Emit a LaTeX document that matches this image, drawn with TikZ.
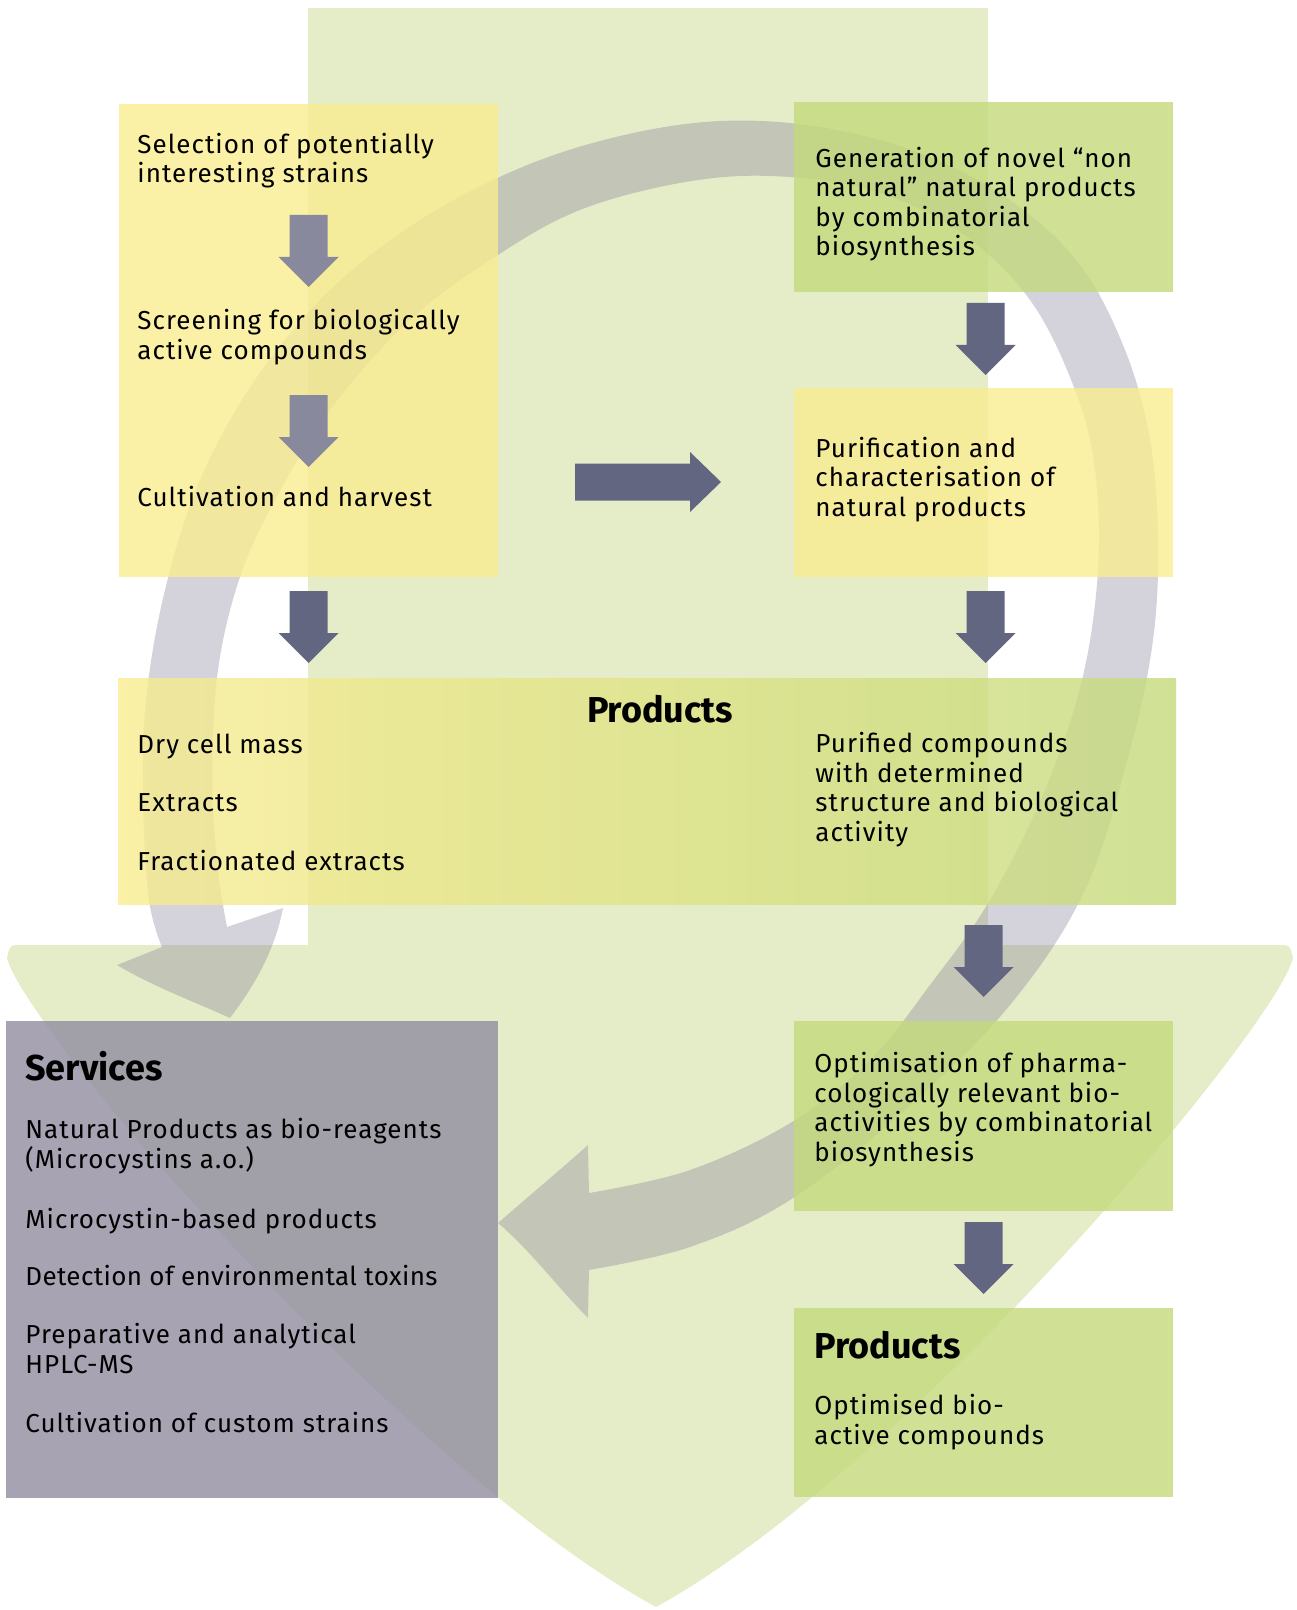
\documentclass[tikz,border=0pt]{standalone}
\usepackage{fontspec}
\setmainfont{Fira Sans}[LetterSpace=4]
\newfontfamily\headfont{Fira Sans}
\usetikzlibrary{calc}
\definecolor{bandc}{RGB}{229,237,200}
\definecolor{ringc}{RGB}{133,128,154}
\definecolor{yelc}{RGB}{249,236,144}
\definecolor{grnc}{RGB}{196,218,124}
\definecolor{servc}{RGB}{145,140,160}
\definecolor{arrc}{RGB}{98,102,128}
\definecolor{arrlc}{RGB}{136,137,156}
\newcommand{\blockdown}[2]{\fill[#2] (#1) +(-19,0) -- +(19,0) -- +(19,42) -- +(30,42) -- +(0,72) -- +(-30,42) -- +(-19,42) -- cycle;}
\begin{document}
\begin{tikzpicture}[x=0.5pt,y=-0.5pt,
  font=\fontsize{13pt}{14.75pt}\selectfont,
  boxn/.style={inner sep=0pt, outer sep=0pt, anchor=north west, fill opacity=0.8, minimum width=#1},
  txt/.style={anchor=base west, align=left, inner sep=0pt},
  head/.style={inner sep=0pt, font=\fontsize{18pt}{20pt}\selectfont\headfont\bfseries}]
\useasboundingbox (0,0) rectangle (1296,1610);
% big green arrow
\fill[bandc] (308,8) rectangle (988,946);
\fill[bandc] (22,945) -- (1278,945) .. controls (1290,945) .. (1293,958)
  .. controls (1275,1030) and (905,1470) .. (656,1607)
  .. controls (405,1470) and (25,1030) .. (7,958)
  .. controls (10,945) .. (22,945) -- cycle;
% circular arrow
\fill[ringc, fill opacity=0.35] (227,927) -- (283,908)
  .. controls (275,950) and (255,985) .. (230,1018)
  .. controls (190,1000) and (150,985) .. (117,965) -- (162,947)
  -- plot[smooth, tension=0.6] coordinates {(162,947) (149,900) (143,800) (146,700) (165,590) (200,480) (255,380) (330,290) (420,220) (520,168) (620,136) (720,121) (820,127) (920,153) (1010,200) (1080,265) (1125,350) (1150,440) (1158,540) (1153,640) (1130,750) (1085,890) (1010,1005) (905,1110) (790,1200) (690,1247) (589,1270)}
  -- (588,1318) .. controls (560,1290) and (530,1250) .. (498,1223)
  .. controls (530,1195) and (560,1170) .. (588,1145)
  -- plot[smooth, tension=0.6] coordinates {(589,1193) (690,1170) (792,1122) (870,1060) (930,985) (990,900) (1045,790) (1082,680) (1098,570) (1095,470) (1075,390) (1030,300) (960,232) (870,190) (770,176) (680,183) (580,210) (498,255) (410,320) (330,410) (275,500) (240,577) (218,670) (212,780) (218,870) (227,927)}
  -- cycle;
% boxes
\node[boxn=189.5pt, minimum height=236.5pt, fill=yelc] (b1) at (119,104) {};
\node[boxn=189.5pt, minimum height=95pt, fill=grnc] (gen) at (794,102) {};
\node[boxn=189.5pt, minimum height=94.5pt, fill=yelc] (pur) at (794,388) {};
\node[boxn=529pt, minimum height=113pt, left color=yelc, right color=grnc] (prod) at (118,678) {};
\node[boxn=189.5pt, minimum height=95pt, fill=grnc] (opt) at (794,1021) {};
\node[boxn=189.5pt, minimum height=94.5pt, fill=grnc] (fin) at (794,1308) {};
\node[boxn=246pt, minimum height=238.5pt, fill=servc] (serv) at (6,1021) {};
% block arrows
\path (b1.north) ++(0,111) coordinate (a1);
\path (b1.north) ++(0,291) coordinate (a2);
\path (b1.south) ++(0,14) coordinate (a3);
\path (pur.south) ++(2,14) coordinate (a4);
\path (gen.south) ++(2,11) coordinate (a5);
\path (opt.north) ++(0,-96) coordinate (a6);
\path (opt.south) ++(0,11) coordinate (a7);
\path (b1.south east) ++(77,-95) coordinate (ah);
\blockdown{a1}{arrlc}
\blockdown{a2}{arrlc}
\blockdown{a3}{arrc}
\blockdown{a4}{arrc}
\blockdown{a5}{arrc}
\blockdown{a6}{arrc}
\blockdown{a7}{arrc}
\fill[arrc] (ah) +(0,-18.5) -- +(115,-18.5) -- +(115,-30) -- +(146,0) -- +(115,30) -- +(115,18.5) -- +(0,18.5) -- cycle;
% texts (anchor = baseline of the last line)
\node[txt] (t1) at (137,183) {Selection of potentially\\interesting strains};
\node[txt] (t2) at (137,359) {Screening for biologically\\active compounds};
\node[txt] (t3) at (137,506) {Cultivation and harvest};
\node[txt] (t4) at (815,256) {Generation of novel “non\\natural” natural products\\by combinatorial\\biosynthesis};
\node[txt] (t5) at (815,516) {Purification and\\characterisation of\\natural products};
\node[head, anchor=base] (h1) at (660,722) {Products};
\node[txt] (t6) at (137,753) {Dry cell mass};
\node[txt] (t7) at (137,811) {Extracts};
\node[txt] (t8) at (137,870) {Fractionated extracts};
\node[txt] (t9) at (815,841) {Purified compounds\\with determined\\structure and biological\\activity};
\node[txt] (t10) at (814,1161) {Optimisation of pharma-\\cologically relevant bio-\\activities by combinatorial\\biosynthesis};
\node[head, anchor=base west] (h2) at (814,1358) {Products};
\node[txt] (t11) at (814,1444) {Optimised bio-\\active compounds};
\node[head, anchor=base west] (h3) at (25,1080) {Services};
\node[txt] (s1) at (25,1168) {Natural Products as bio-reagents\\(Microcystins a.o.)};
\node[txt] (s2) at (25,1228) {Microcystin-based products};
\node[txt, font=\fontsize{13pt}{14.75pt}\selectfont\addfontfeature{LetterSpace=1.5}] (s3) at (25,1285) {Detection of environmental toxins};
\node[txt] (s4) at (25,1373) {Preparative and analytical\\HPLC-MS};
\node[txt] (s5) at (25,1432) {Cultivation of custom strains};
\end{tikzpicture}
\end{document}
